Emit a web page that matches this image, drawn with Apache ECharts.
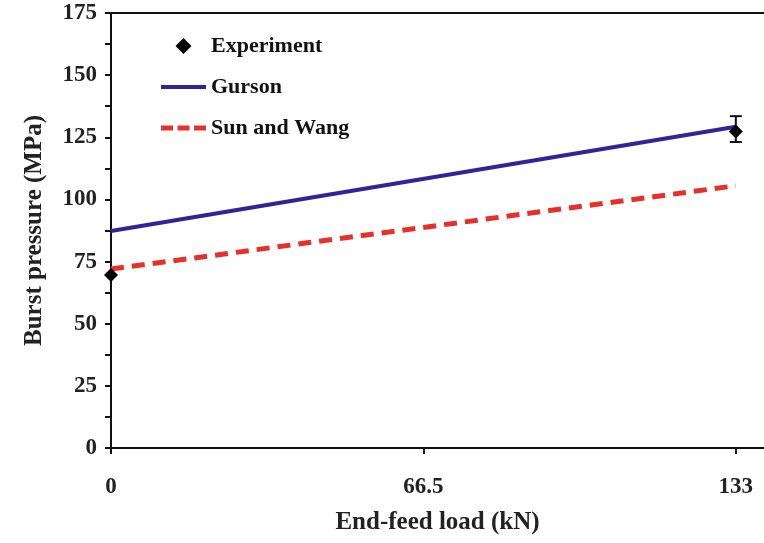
<!DOCTYPE html>
<html><head><meta charset="utf-8">
<script src="https://cdn.jsdelivr.net/npm/echarts@6/dist/echarts.min.js"></script>
<style>html,body{margin:0;padding:0;background:#fff}#c{width:764px;height:543px}</style>
</head><body><div id="c"></div>
<script>
var xTicks = [0, 66.5, 133];
var gursonX = [0, 133];
var gursonY = [87.3, 129.2];
var sunWangX = [0, 133];
var sunWangY = [72.0, 105.5];
var expX = [0, 133];
var expY = [69.6, 127.3];
var expLow = [69.6, 123.1];
var expHigh = [69.6, 133.5];

var font = '"Liberation Serif", "Times New Roman", serif';
var chart = echarts.init(document.getElementById('c'));
chart.setOption({
  animation: false,
  backgroundColor: '#fff',
  grid: {left: 111, right: 0, top: 13, bottom: 95},
  legend: {
    orient: 'vertical', left: 156, top: 30, itemGap: 19, itemWidth: 45, itemHeight: 16,
    symbolKeepAspect: true,
    textStyle: {fontFamily: font, fontWeight: 'bold', fontSize: 22, color: '#111'},
    data: [
      {name: 'Experiment', icon: 'path://M7,0 L14,7 L7,14 L0,7 Z'},
      {name: 'Gurson', icon: 'path://M0,0 L45,0 L45,4 L0,4 Z'},
      {name: 'Sun and Wang', icon: 'path://M0,0 h12 v5 h-12 Z M16.5,0 h12 v5 h-12 Z M33,0 h12 v5 h-12 Z'}
    ]
  },
  xAxis: [{
    type: 'value', min: 0, max: 139,
    name: 'End-feed load (kN)', nameLocation: 'middle', nameGap: 62,
    nameTextStyle: {fontFamily: font, fontWeight: 'bold', fontSize: 25, color: '#222'},
    axisLine: {lineStyle: {color: '#111', width: 2}},
    axisTick: {show: true, length: 6, lineStyle: {color: '#111', width: 2}, customValues: xTicks},
    axisLabel: {margin: 28, fontFamily: font, fontWeight: 'bold', fontSize: 23, color: '#222', customValues: xTicks,
      formatter: function (v) { return String(v); }},
    splitLine: {show: false}
  }, {
    type: 'value', position: 'top', min: 0, max: 139,
    axisLine: {show: true, lineStyle: {color: '#111', width: 2}},
    axisTick: {show: false}, axisLabel: {show: false}, splitLine: {show: false}
  }],
  yAxis: {
    type: 'value', min: 0, max: 175, interval: 25,
    name: 'Burst pressure (MPa)', nameLocation: 'middle', nameGap: 64,
    nameTextStyle: {fontFamily: font, fontWeight: 'bold', fontSize: 25, color: '#222'},
    axisLine: {show: true, lineStyle: {color: '#111', width: 2}},
    axisTick: {show: true, length: 6, lineStyle: {color: '#111', width: 2}},
    minorTick: {show: true, splitNumber: 2, length: 6, lineStyle: {color: '#111', width: 2}},
    axisLabel: {margin: 14, fontFamily: font, fontWeight: 'bold', fontSize: 23, color: '#222'},
    splitLine: {show: false}
  },
  series: [
    {
      name: 'Gurson', type: 'line', symbol: 'none', z: 2,
      data: gursonX.map(function (x, i) { return [x, gursonY[i]]; }),
      lineStyle: {color: '#33239a', width: 4}, itemStyle: {color: '#33239a'}
    },
    {
      name: 'Sun and Wang', type: 'line', symbol: 'none', z: 2,
      data: sunWangX.map(function (x, i) { return [x, sunWangY[i]]; }),
      lineStyle: {color: '#e8302a', width: 5, type: [13, 8]}, itemStyle: {color: '#e8302a'}
    },
    {
      name: 'Experiment', type: 'scatter', symbol: 'diamond', symbolSize: 14, z: 4,
      data: expX.map(function (x, i) { return [x, expY[i]]; }),
      itemStyle: {color: '#000', opacity: 1}
    },
    {
      name: 'ErrorBars', type: 'custom', z: 3,
      data: expX.map(function (x, i) { return [x, expLow[i], expHigh[i]]; }),
      renderItem: function (params, api) {
        var lo = api.coord([api.value(0), api.value(1)]);
        var hi = api.coord([api.value(0), api.value(2)]);
        if (Math.abs(lo[1] - hi[1]) < 1) return null;
        var w = 6;
        var st = {stroke: '#111', lineWidth: 2};
        return {type: 'group', children: [
          {type: 'line', shape: {x1: lo[0], y1: lo[1], x2: hi[0], y2: hi[1]}, style: st},
          {type: 'line', shape: {x1: lo[0] - w, y1: lo[1], x2: lo[0] + w, y2: lo[1]}, style: st},
          {type: 'line', shape: {x1: hi[0] - w, y1: hi[1], x2: hi[0] + w, y2: hi[1]}, style: st}
        ]};
      }
    }
  ]
});
</script></body></html>
